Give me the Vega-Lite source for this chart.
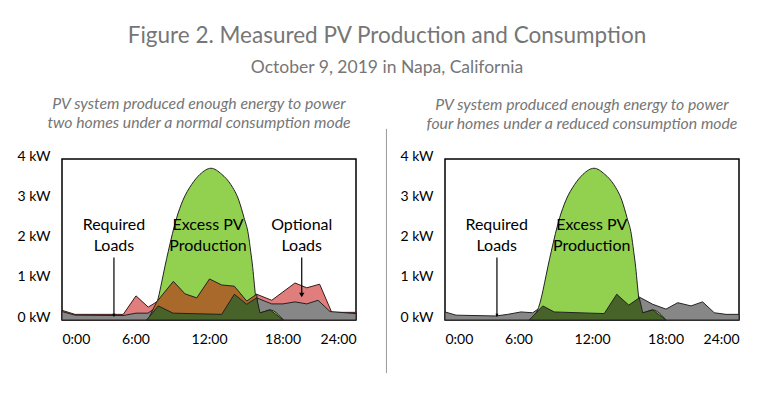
{
  "$schema": "https://vega.github.io/schema/vega-lite/v6.json",
  "padding": {"left": 16, "top": 25, "right": 5, "bottom": 5},
  "background": "white",
  "title": {
    "text": "Figure 2. Measured PV Production and Consumption",
    "subtitle": "October 9, 2019 in Napa, California",
    "font": "Lato", "subtitleFont": "Lato",
    "fontSize": 22.5, "subtitleFontSize": 17.5,
    "fontWeight": "normal",
    "color": "#767676", "subtitleColor": "#767676",
    "anchor": "middle", "subtitlePadding": 11, "offset": 19, "dx": 8
  },
  "config": {
    "font": "Lato",
    "view": {"stroke": "#000", "strokeWidth": 1.5},
    "axis": {"grid": false, "ticks": false, "domain": false, "title": null, "labelFont": "Lato", "labelFontSize": 14, "labelColor": "#000"},
    "axisX": {"labelPadding": 12},
    "axisY": {"labelPadding": 12, "labelOffset": -3}
  },
  "spacing": 26,
  "datasets": {
    "left": [
      {"s": "pink", "h": 0, "v": 0.24}, {"s": "pink", "h": 1.06, "v": 0.14}, {"s": "pink", "h": 5.0, "v": 0.14}, {"s": "pink", "h": 6.04, "v": 0.6}, {"s": "pink", "h": 7.04, "v": 0.32}, {"s": "pink", "h": 7.73, "v": 0.45}, {"s": "pink", "h": 9.09, "v": 0.96}, {"s": "pink", "h": 10.04, "v": 0.65}, {"s": "pink", "h": 11.0, "v": 0.55}, {"s": "pink", "h": 12.04, "v": 1.02}, {"s": "pink", "h": 13.04, "v": 0.87}, {"s": "pink", "h": 14.07, "v": 0.84}, {"s": "pink", "h": 15.08, "v": 0.47}, {"s": "pink", "h": 15.89, "v": 0.64}, {"s": "pink", "h": 17.12, "v": 0.49}, {"s": "pink", "h": 19.02, "v": 0.92}, {"s": "pink", "h": 19.98, "v": 0.8}, {"s": "pink", "h": 21.03, "v": 0.89}, {"s": "pink", "h": 22.02, "v": 0.19}, {"s": "pink", "h": 24, "v": 0.19},
      {"s": "gray", "h": 0, "v": 0.21}, {"s": "gray", "h": 1.06, "v": 0.12}, {"s": "gray", "h": 4.98, "v": 0.11}, {"s": "gray", "h": 6.04, "v": 0.17}, {"s": "gray", "h": 7.02, "v": 0.17}, {"s": "gray", "h": 7.86, "v": 0.35}, {"s": "gray", "h": 9.06, "v": 0.17}, {"s": "gray", "h": 13.04, "v": 0.14}, {"s": "gray", "h": 14.07, "v": 0.64}, {"s": "gray", "h": 15.08, "v": 0.39}, {"s": "gray", "h": 15.89, "v": 0.55}, {"s": "gray", "h": 17.12, "v": 0.4}, {"s": "gray", "h": 18.04, "v": 0.4}, {"s": "gray", "h": 19.02, "v": 0.45}, {"s": "gray", "h": 19.98, "v": 0.4}, {"s": "gray", "h": 20.9, "v": 0.49}, {"s": "gray", "h": 21.88, "v": 0.21}, {"s": "gray", "h": 23.92, "v": 0.16}, {"s": "gray", "h": 24, "v": 0.16},
      {"s": "pv", "h": 6.9, "v": 0}, {"s": "pv", "h": 7.35, "v": 0.12}, {"s": "pv", "h": 7.73, "v": 0.4}, {"s": "pv", "h": 7.86, "v": 0.55}, {"s": "pv", "h": 8.14, "v": 0.94}, {"s": "pv", "h": 8.41, "v": 1.34}, {"s": "pv", "h": 8.68, "v": 1.71}, {"s": "pv", "h": 9.36, "v": 2.54}, {"s": "pv", "h": 9.85, "v": 2.96}, {"s": "pv", "h": 10.59, "v": 3.37}, {"s": "pv", "h": 11.27, "v": 3.62}, {"s": "pv", "h": 12.16, "v": 3.77}, {"s": "pv", "h": 13.04, "v": 3.62}, {"s": "pv", "h": 13.77, "v": 3.37}, {"s": "pv", "h": 14.45, "v": 2.96}, {"s": "pv", "h": 14.86, "v": 2.54}, {"s": "pv", "h": 15.21, "v": 2.13}, {"s": "pv", "h": 15.4, "v": 1.71}, {"s": "pv", "h": 15.57, "v": 1.3}, {"s": "pv", "h": 15.7, "v": 0.89}, {"s": "pv", "h": 15.84, "v": 0.47}, {"s": "pv", "h": 15.94, "v": 0.2}, {"s": "pv", "h": 16.16, "v": 0.18}, {"s": "pv", "h": 16.98, "v": 0.25}, {"s": "pv", "h": 18.07, "v": 0},
      {"s": "brown", "h": 7.0, "v": 0}, {"s": "brown", "h": 7.73, "v": 0.45}, {"s": "brown", "h": 9.09, "v": 0.96}, {"s": "brown", "h": 10.04, "v": 0.65}, {"s": "brown", "h": 11.0, "v": 0.55}, {"s": "brown", "h": 12.04, "v": 1.02}, {"s": "brown", "h": 13.04, "v": 0.87}, {"s": "brown", "h": 14.07, "v": 0.84}, {"s": "brown", "h": 15.08, "v": 0.47}, {"s": "brown", "h": 15.89, "v": 0.64}, {"s": "brown", "h": 16.02, "v": 0.25}, {"s": "brown", "h": 16.2, "v": 0},
      {"s": "dg", "h": 6.91, "v": 0}, {"s": "dg", "h": 7.86, "v": 0.35}, {"s": "dg", "h": 9.06, "v": 0.17}, {"s": "dg", "h": 13.04, "v": 0.14}, {"s": "dg", "h": 14.07, "v": 0.64}, {"s": "dg", "h": 15.08, "v": 0.39}, {"s": "dg", "h": 15.89, "v": 0.55}, {"s": "dg", "h": 16.16, "v": 0.18}, {"s": "dg", "h": 16.98, "v": 0.25}, {"s": "dg", "h": 18.07, "v": 0}
    ],
    "right": [
      {"s": "gray", "h": 0, "v": 0.2}, {"s": "gray", "h": 0.9, "v": 0.12}, {"s": "gray", "h": 4.16, "v": 0.1}, {"s": "gray", "h": 5.12, "v": 0.14}, {"s": "gray", "h": 6.2, "v": 0.2}, {"s": "gray", "h": 7.16, "v": 0.18}, {"s": "gray", "h": 7.98, "v": 0.35}, {"s": "gray", "h": 8.92, "v": 0.2}, {"s": "gray", "h": 11.92, "v": 0.17}, {"s": "gray", "h": 13.0, "v": 0.16}, {"s": "gray", "h": 14.02, "v": 0.64}, {"s": "gray", "h": 15.0, "v": 0.37}, {"s": "gray", "h": 15.86, "v": 0.57}, {"s": "gray", "h": 16.96, "v": 0.39}, {"s": "gray", "h": 18.04, "v": 0.27}, {"s": "gray", "h": 19.0, "v": 0.43}, {"s": "gray", "h": 20.08, "v": 0.35}, {"s": "gray", "h": 21.03, "v": 0.45}, {"s": "gray", "h": 21.98, "v": 0.18}, {"s": "gray", "h": 22.94, "v": 0.14}, {"s": "gray", "h": 24, "v": 0.14},
      {"s": "pv", "h": 6.9, "v": 0}, {"s": "pv", "h": 7.35, "v": 0.12}, {"s": "pv", "h": 7.73, "v": 0.4}, {"s": "pv", "h": 7.86, "v": 0.55}, {"s": "pv", "h": 8.14, "v": 0.94}, {"s": "pv", "h": 8.41, "v": 1.34}, {"s": "pv", "h": 8.68, "v": 1.71}, {"s": "pv", "h": 9.36, "v": 2.54}, {"s": "pv", "h": 9.85, "v": 2.96}, {"s": "pv", "h": 10.59, "v": 3.37}, {"s": "pv", "h": 11.27, "v": 3.62}, {"s": "pv", "h": 12.16, "v": 3.77}, {"s": "pv", "h": 13.04, "v": 3.62}, {"s": "pv", "h": 13.77, "v": 3.37}, {"s": "pv", "h": 14.45, "v": 2.96}, {"s": "pv", "h": 14.86, "v": 2.54}, {"s": "pv", "h": 15.21, "v": 2.13}, {"s": "pv", "h": 15.4, "v": 1.71}, {"s": "pv", "h": 15.57, "v": 1.3}, {"s": "pv", "h": 15.7, "v": 0.89}, {"s": "pv", "h": 15.84, "v": 0.47}, {"s": "pv", "h": 15.94, "v": 0.2}, {"s": "pv", "h": 16.14, "v": 0.18}, {"s": "pv", "h": 16.96, "v": 0.25}, {"s": "pv", "h": 18.04, "v": 0},
      {"s": "dg", "h": 6.88, "v": 0}, {"s": "dg", "h": 7.98, "v": 0.35}, {"s": "dg", "h": 8.92, "v": 0.2}, {"s": "dg", "h": 11.92, "v": 0.17}, {"s": "dg", "h": 13.0, "v": 0.16}, {"s": "dg", "h": 14.02, "v": 0.64}, {"s": "dg", "h": 15.0, "v": 0.37}, {"s": "dg", "h": 15.86, "v": 0.55}, {"s": "dg", "h": 16.14, "v": 0.18}, {"s": "dg", "h": 16.96, "v": 0.25}, {"s": "dg", "h": 18.04, "v": 0}
    ],
    "notesL": [
      {"h": 4.24, "v": 2.36, "t": "Required"}, {"h": 4.24, "v": 1.84, "t": "Loads"},
      {"h": 11.92, "v": 2.36, "t": "Excess PV"}, {"h": 11.92, "v": 1.84, "t": "Production"},
      {"h": 19.57, "v": 2.36, "t": "Optional"}, {"h": 19.57, "v": 1.84, "t": "Loads"}
    ],
    "notesR": [
      {"h": 4.22, "v": 2.36, "t": "Required"}, {"h": 4.22, "v": 1.84, "t": "Loads"},
      {"h": 11.98, "v": 2.36, "t": "Excess PV"}, {"h": 11.98, "v": 1.84, "t": "Production"}
    ],
    "arrowsL": [
      {"h": 4.24, "top": 1.55, "bot": 0.09, "head": 0.12, "size": 10},
      {"h": 19.57, "top": 1.55, "bot": 0.6, "head": 0.62, "size": 28}
    ],
    "arrowsR": [
      {"h": 4.24, "top": 1.55, "bot": 0.09, "head": 0.12, "size": 10}
    ],
    "divider": [
      {"h": -4.78, "top": 4.75, "bot": -1.32}
    ]
  },
  "hconcat": [
    {
      "width": 294, "height": 161,
      "title": {"text": ["PV system produced enough energy to power", "two homes under a normal consumption mode"], "font": "Lato", "fontStyle": "italic", "fontWeight": "normal", "fontSize": 15.8, "color": "#767676", "lineHeight": 19, "offset": 17, "frame": "group", "dx": -10},
      "data": {"name": "left"},
      "encoding": {
        "x": {"field": "h", "type": "quantitative", "scale": {"domain": [0, 24], "nice": false}, "axis": {"values": [0, 6, 12, 18, 24], "labelExpr": "datum.value + ':00'"}},
        "y": {"field": "v", "type": "quantitative", "scale": {"domain": [0, 4], "nice": false}, "axis": {"values": [0, 1, 2, 3, 4], "labelExpr": "datum.value + ' kW'"}}
      },
      "layer": [
        {"transform": [{"filter": "datum.s == 'pink'"}], "mark": {"type": "area", "fill": "#e07d7d", "stroke": "#3a1a1a", "strokeWidth": 1}},
        {"transform": [{"filter": "datum.s == 'gray'"}], "mark": {"type": "area", "fill": "#878787", "stroke": "#222", "strokeWidth": 1}},
        {"transform": [{"filter": "datum.s == 'pv'"}], "mark": {"type": "area", "fill": "#92d050", "stroke": "#222", "strokeWidth": 1, "interpolate": "monotone"}},
        {"transform": [{"filter": "datum.s == 'brown'"}], "mark": {"type": "area", "fill": "#a8692b", "stroke": "#222", "strokeWidth": 1}},
        {"transform": [{"filter": "datum.s == 'dg'"}], "mark": {"type": "area", "fill": "#47632a", "stroke": "#222", "strokeWidth": 1}},
        {"data": {"name": "notesL"}, "mark": {"type": "text", "fontSize": 16, "font": "Lato", "color": "#000", "baseline": "middle", "align": "center"}, "encoding": {"text": {"field": "t"}}},
        {"data": {"name": "arrowsL"}, "mark": {"type": "rule", "color": "#000", "strokeWidth": 1.2}, "encoding": {"y": {"field": "top", "type": "quantitative"}, "y2": {"field": "bot"}}},
        {"data": {"name": "arrowsL"}, "mark": {"type": "point", "shape": "triangle-down", "filled": true, "color": "#000", "opacity": 1}, "encoding": {"y": {"field": "head", "type": "quantitative"}, "size": {"field": "size", "type": "quantitative", "scale": null}}}
      ]
    },
    {
      "width": 294, "height": 161,
      "title": {"text": ["PV system produced enough energy to power", "four homes under a reduced consumption mode"], "font": "Lato", "fontStyle": "italic", "fontWeight": "normal", "fontSize": 15.8, "color": "#767676", "lineHeight": 19, "offset": 17, "frame": "group", "dx": -10, "dy": 21},
      "data": {"name": "right"},
      "encoding": {
        "x": {"field": "h", "type": "quantitative", "scale": {"domain": [0, 24], "nice": false}, "axis": {"values": [0, 6, 12, 18, 24], "labelExpr": "datum.value + ':00'"}},
        "y": {"field": "v", "type": "quantitative", "scale": {"domain": [0, 4], "nice": false}, "axis": {"values": [0, 1, 2, 3, 4], "labelExpr": "datum.value + ' kW'"}}
      },
      "layer": [
        {"transform": [{"filter": "datum.s == 'gray'"}], "mark": {"type": "area", "fill": "#878787", "stroke": "#222", "strokeWidth": 1}},
        {"transform": [{"filter": "datum.s == 'pv'"}], "mark": {"type": "area", "fill": "#92d050", "stroke": "#222", "strokeWidth": 1, "interpolate": "monotone"}},
        {"transform": [{"filter": "datum.s == 'dg'"}], "mark": {"type": "area", "fill": "#47632a", "stroke": "#222", "strokeWidth": 1}},
        {"data": {"name": "notesR"}, "mark": {"type": "text", "fontSize": 16, "font": "Lato", "color": "#000", "baseline": "middle", "align": "center"}, "encoding": {"text": {"field": "t"}}},
        {"data": {"name": "arrowsR"}, "mark": {"type": "rule", "color": "#000", "strokeWidth": 1.2}, "encoding": {"y": {"field": "top", "type": "quantitative"}, "y2": {"field": "bot"}}},
        {"data": {"name": "arrowsR"}, "mark": {"type": "point", "shape": "triangle-down", "filled": true, "color": "#000", "opacity": 1}, "encoding": {"y": {"field": "head", "type": "quantitative"}, "size": {"field": "size", "type": "quantitative", "scale": null}}},
        {"data": {"name": "divider"}, "mark": {"type": "rule", "color": "#9a9a9a", "strokeWidth": 1}, "encoding": {"y": {"field": "top", "type": "quantitative"}, "y2": {"field": "bot"}}}
      ]
    }
  ]
}
